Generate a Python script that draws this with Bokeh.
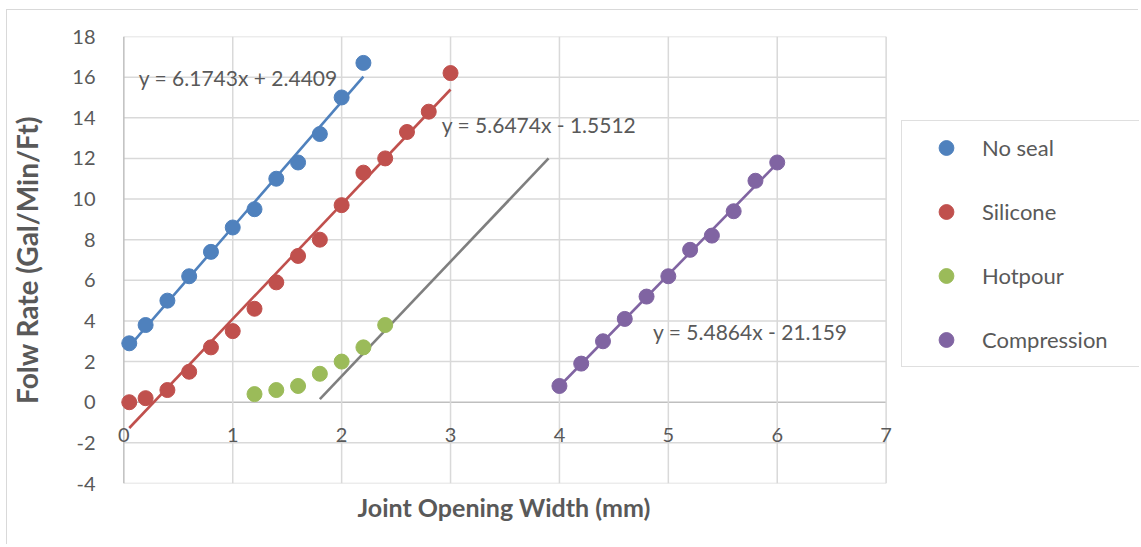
from bokeh.plotting import figure
from bokeh.models import (Range1d, FixedTicker, Legend, LegendItem, Label, Title,
                          CustomJSTickFormatter)
from bokeh.embed import file_html
from bokeh.resources import INLINE

# ---- data ----
noseal_x = [0.05, 0.2, 0.4, 0.6, 0.8, 1.0, 1.2, 1.4, 1.6, 1.8, 2.0, 2.2]
noseal_y = [2.9, 3.8, 5.0, 6.2, 7.4, 8.6, 9.5, 11.0, 11.8, 13.2, 15.0, 16.7]

silicone_x = [0.05, 0.2, 0.4, 0.6, 0.8, 1.0, 1.2, 1.4, 1.6, 1.8, 2.0, 2.2, 2.4, 2.6, 2.8, 3.0]
silicone_y = [0.0, 0.2, 0.6, 1.5, 2.7, 3.5, 4.6, 5.9, 7.2, 8.0, 9.7, 11.3, 12.0, 13.3, 14.3, 16.2]

hotpour_x = [1.2, 1.4, 1.6, 1.8, 2.0, 2.2, 2.4]
hotpour_y = [0.4, 0.6, 0.8, 1.4, 2.0, 2.7, 3.8]

compression_x = [4.0, 4.2, 4.4, 4.6, 4.8, 5.0, 5.2, 5.4, 5.6, 5.8, 6.0]
compression_y = [0.8, 1.9, 3.0, 4.1, 5.2, 6.2, 7.5, 8.2, 9.4, 10.9, 11.8]

gray_line_x = [1.8, 3.9]
gray_line_y = [0.15, 12.0]

series_names = ["No seal", "Silicone", "Hotpour", "Compression"]
series_colors = ["#4F81BD", "#C0504D", "#9BBB59", "#8064A2"]

fit_series = [0, 1, 3]          # which series carry a fitted trend line
fit_slopes = [6.1743, 5.6474, 5.4864]
fit_intercepts = [2.4409, -1.5512, -21.159]
fit_labels = ["y = 6.1743x + 2.4409", "y = 5.6474x - 1.5512", "y = 5.4864x - 21.159"]

x_ticks = [0, 1, 2, 3, 4, 5, 6, 7]
y_ticks = [-4, -2, 0, 2, 4, 6, 8, 10, 12, 14, 16, 18]

x_title = "Joint Opening Width (mm)"
y_title = "Folw Rate (Gal/Min/Ft)"

FONT = "Lato"
TXT = "#595959"
GRID = "#d9d9d9"
AXIS = "#bfbfbf"

xmin, xmax = x_ticks[0], x_ticks[-1]
ymin, ymax = y_ticks[0], y_ticks[-1]

# layout: the frame runs to the right edge so the legend can sit inside it
W, H = 1132, 535
MB_LEFT = 100
PX_PER_UNIT = 108.9
xpad = 0.15
frame_w = W - MB_LEFT
x_end = -xpad + frame_w / PX_PER_UNIT

p = figure(width=W, height=H, output_backend="svg", toolbar_location=None,
           x_range=Range1d(xmin - xpad, x_end), y_range=Range1d(ymin, ymax),
           min_border_left=MB_LEFT, min_border_right=0, min_border_top=26,
           min_border_bottom=62)
p.styles = {"margin-left": "6px", "margin-top": "9px",
            "border-top": "1px solid #d9d9d9", "border-left": "1px solid #d9d9d9"}
p.outline_line_color = None
p.xgrid.visible = False
p.ygrid.visible = False

# grid lines drawn from the tick lists (bounded to the 0..7 plot area)
for t in y_ticks:
    p.line([xmin, xmax], [t, t], line_color=AXIS if t == 0 else GRID, line_width=1.5)
for t in x_ticks:
    p.line([t, t], [ymin, ymax], line_color=AXIS if t == 0 else GRID, line_width=1.5)

fmt = CustomJSTickFormatter(code="return tick.toString()")

# x axis crossing at y = 0
xa = p.xaxis[0]
xa.ticker = FixedTicker(ticks=x_ticks)
xa.formatter = fmt
xa.fixed_location = 0
xa.axis_line_color = None
xa.major_tick_line_color = None
xa.minor_tick_line_color = None
xa.major_label_text_font = FONT
xa.major_label_text_font_size = "20px"
xa.major_label_text_color = TXT
xa.major_label_standoff = 20

ya = p.yaxis[0]
ya.ticker = FixedTicker(ticks=y_ticks)
ya.formatter = fmt
ya.axis_line_color = None
ya.major_tick_line_color = None
ya.minor_tick_line_color = None
ya.major_label_text_font = FONT
ya.major_label_text_font_size = "20px"
ya.major_label_text_color = TXT
ya.major_label_standoff = 6
ya.axis_label = y_title
ya.axis_label_text_font = FONT
ya.axis_label_text_font_size = "28px"
ya.axis_label_text_font_style = "bold"
ya.axis_label_text_color = TXT
ya.axis_label_standoff = 25

# x-axis title, centred under the 0..7 area rather than the whole frame
p.add_layout(Title(text=x_title, align="left", offset=250, text_font=FONT,
                   text_font_size="25px", text_font_style="bold", text_color=TXT,
                   vertical_align="top", standoff=16), "below")

xs = [noseal_x, silicone_x, hotpour_x, compression_x]
ys = [noseal_y, silicone_y, hotpour_y, compression_y]

# trend lines from the fitted equations, over each series' x extent
for k, i in enumerate(fit_series):
    x0, x1 = min(xs[i]), max(xs[i])
    m, b = fit_slopes[k], fit_intercepts[k]
    p.line([x0, x1], [m * x0 + b, m * x1 + b], line_color=series_colors[i], line_width=2.6)
p.line(gray_line_x, gray_line_y, line_color="#7f7f7f", line_width=2.6)

renderers = []
for sx, sy, c in zip(xs, ys, series_colors):
    renderers.append(p.scatter(sx, sy, size=15, fill_color=c, line_color=c))

legend = Legend(items=[LegendItem(label=n, renderers=[r]) for n, r in zip(series_names, renderers)],
                location=(794, 116), border_line_color=AXIS, border_line_width=1.3,
                background_fill_color="white", background_fill_alpha=1,
                label_text_font=FONT, label_text_font_size="22px", label_text_color=TXT,
                glyph_width=72, glyph_height=37, label_height=37, spacing=27,
                padding=8, label_standoff=0, label_width=300, margin=0)
p.add_layout(legend, "center")

lbl_pos = [(0.138, 16.0), (2.92, 13.68), (4.86, 3.49)]
for (lx, ly), t in zip(lbl_pos, fit_labels):
    p.add_layout(Label(x=lx, y=ly, text=t, text_font=FONT, text_font_size="21px",
                       text_color=TXT, text_baseline="middle", text_align="left"))

open("out.html", "w").write(file_html(p, INLINE))
